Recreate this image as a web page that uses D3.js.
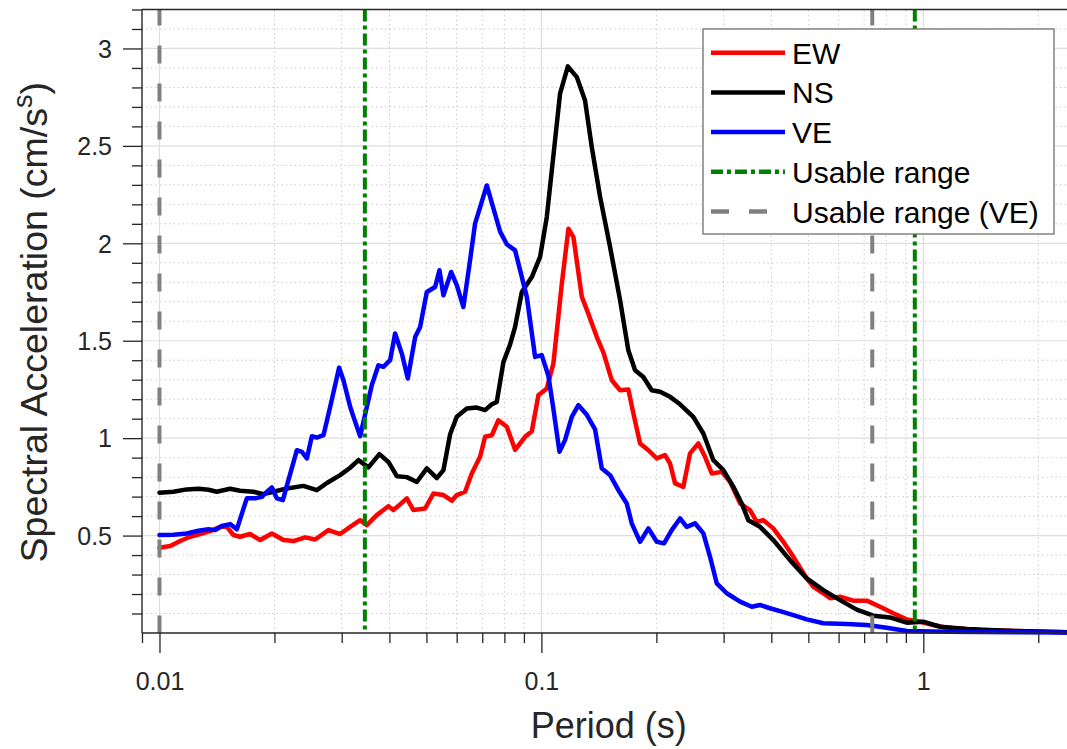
<!DOCTYPE html>
<html><head><meta charset="utf-8">
<script src="https://cdn.jsdelivr.net/npm/d3@7"></script>
<style>
body{margin:0;background:#fff;}
svg{display:block;font-family:"Liberation Sans",Arial,Helvetica,sans-serif;}
</style></head><body>
<svg id="c" width="1067" height="749"></svg>
<script>
// ---------- data ----------
const ewT = [0.0100,0.01067,0.01133,0.01203,0.01278,0.01357,0.01442,0.01501,0.01562,0.01626,0.01727,0.01835,0.01969,0.02112,0.02243,0.02407,0.02556,0.02770,0.02972,0.03157,0.03353,0.03491,0.03707,0.03976,0.04098,0.04267,0.04442,0.04623,0.04961,0.05215,0.05540,0.05827,0.06004,0.06313,0.06572,0.06910,0.07121,0.07416,0.07716,0.08118,0.08534,0.09065,0.09438,0.09820,0.1033,0.1075,0.1131,0.1177,0.1213,0.1276,0.1327,0.1396,0.1453,0.1529,0.1607,0.1689,0.1741,0.1813,0.1906,0.2005,0.2107,0.2172,0.2239,0.2353,0.2450,0.2576,0.2682,0.2793,0.2967,0.3119,0.3313,0.3517,0.3663,0.3812,0.4048,0.4300,0.4568,0.4953,0.5153,0.5473,0.5699,0.6053,0.6559,0.7110,0.7703,0.8344,0.9046,0.9804,1.062,1.151,1.407,2.378,2.5];
const ewV = [0.438,0.446,0.472,0.494,0.508,0.523,0.545,0.545,0.503,0.494,0.508,0.477,0.511,0.477,0.472,0.491,0.48,0.528,0.508,0.545,0.579,0.554,0.605,0.651,0.631,0.66,0.691,0.631,0.639,0.716,0.708,0.679,0.708,0.725,0.819,0.904,1.007,1.015,1.092,1.058,0.94,1.007,1.035,1.22,1.255,1.383,1.793,2.075,2.032,1.725,1.639,1.52,1.44,1.297,1.246,1.25,1.127,0.973,0.938,0.896,0.913,0.87,0.768,0.75,0.922,0.973,0.904,0.819,0.827,0.776,0.665,0.631,0.571,0.579,0.537,0.468,0.391,0.28,0.237,0.204,0.178,0.186,0.166,0.166,0.135,0.101,0.07,0.058,0.041,0.027,0.015,0.004,0.003];

const nsT = [0.0100,0.01087,0.01179,0.01265,0.01344,0.01413,0.01531,0.01626,0.01762,0.01872,0.01988,0.02155,0.02382,0.02582,0.02744,0.02972,0.03157,0.03319,0.03525,0.03766,0.03976,0.04183,0.04442,0.04719,0.05012,0.05324,0.05540,0.05768,0.06004,0.06378,0.06774,0.07121,0.07416,0.07642,0.07953,0.08278,0.08534,0.08887,0.09438,0.09922,0.1033,0.1075,0.1119,0.1173,0.1238,0.1301,0.1355,0.1425,0.1513,0.1607,0.1689,0.1759,0.1849,0.1945,0.2045,0.2172,0.2307,0.2499,0.2655,0.2820,0.2995,0.3182,0.3346,0.3482,0.3736,0.4048,0.4477,0.4953,0.5473,0.6053,0.6695,0.7399,0.8181,0.9046,1.000,1.106,1.299,1.717,2.378,2.5];
const nsV = [0.72,0.725,0.737,0.74,0.735,0.725,0.74,0.73,0.725,0.713,0.725,0.742,0.755,0.733,0.77,0.81,0.848,0.887,0.85,0.918,0.878,0.805,0.80,0.775,0.845,0.795,0.836,1.02,1.11,1.152,1.157,1.144,1.174,1.186,1.39,1.48,1.571,1.75,1.827,1.93,2.135,2.45,2.768,2.908,2.853,2.733,2.494,2.237,1.981,1.708,1.451,1.349,1.314,1.246,1.238,1.212,1.174,1.109,1.024,0.887,0.836,0.75,0.665,0.579,0.545,0.477,0.374,0.28,0.22,0.169,0.12,0.089,0.08,0.053,0.058,0.032,0.02,0.01,0.004,0.003];

const veT = [0.0100,0.01087,0.01179,0.01265,0.01344,0.01399,0.01457,0.01531,0.01594,0.01693,0.01780,0.01854,0.01891,0.01969,0.02029,0.02104,0.02176,0.02290,0.02360,0.02432,0.02506,0.02582,0.02688,0.02799,0.02954,0.03032,0.03157,0.03221,0.03353,0.03491,0.03597,0.03743,0.03858,0.04017,0.04140,0.04311,0.04469,0.04671,0.04814,0.05012,0.05269,0.05408,0.05540,0.05803,0.06004,0.06248,0.06505,0.06704,0.07195,0.07797,0.08118,0.08534,0.09159,0.09627,0.1002,0.1043,0.1075,0.1115,0.1153,0.1201,0.1250,0.1315,0.1382,0.1439,0.1513,0.1591,0.1673,0.1724,0.1813,0.1906,0.2005,0.2095,0.2194,0.2307,0.2401,0.2525,0.2655,0.2764,0.2878,0.3057,0.3313,0.3554,0.3736,0.3968,0.4216,0.4568,0.4953,0.5473,0.6303,0.7110,0.8021,0.9046,1.151,2.378,2.5];
const veV = [0.503,0.504,0.511,0.525,0.532,0.528,0.549,0.559,0.532,0.691,0.691,0.699,0.716,0.747,0.691,0.682,0.785,0.938,0.93,0.896,1.01,1.003,1.015,1.161,1.362,1.297,1.161,1.109,1.01,1.161,1.272,1.374,1.366,1.4,1.537,1.434,1.306,1.519,1.571,1.75,1.776,1.862,1.733,1.853,1.785,1.673,1.913,2.101,2.297,2.06,1.995,1.964,1.725,1.417,1.426,1.32,1.15,0.93,0.99,1.109,1.169,1.12,1.045,0.845,0.81,0.733,0.665,0.563,0.468,0.537,0.468,0.46,0.528,0.588,0.545,0.563,0.511,0.391,0.255,0.204,0.161,0.135,0.144,0.127,0.112,0.092,0.07,0.05,0.046,0.041,0.027,0.01,0.007,0.002,0.002];

const usableRange = [0.0345, 0.95];
const usableRangeVE = [0.01, 0.735];

const xMajorTicks = [0.01, 0.1, 1];
const xTickLabels = ["0.01", "0.1", "1"];
const yMajorTicks = [0.5, 1, 1.5, 2, 2.5, 3];
const yTickLabels = ["0.5", "1", "1.5", "2", "2.5", "3"];
const seriesNames = ["EW", "NS", "VE"];
const legendLabels = ["EW", "NS", "VE", "Usable range", "Usable range (VE)"];

// ---------- layout ----------
const X0 = 142, X1 = 1075.3, Y0 = 633, Y1 = 9.5;
const x = d3.scaleLog().domain([0.009, 2.5]).range([X0, X1]);
const y = d3.scaleLinear().domain([0, 3.2]).range([Y0, Y1]);
const svg = d3.select('#c');
const axisColor = '#262626';

// minor tick values
const xMinor = [0.009];
[0.01, 0.1, 1].forEach(d => { for (let k = 2; k <= 9; k++) { const v = +(k * d).toPrecision(3); if (v <= 2.5) xMinor.push(v); } });
const yMinor = d3.range(1, 33).map(i => +(i / 10).toFixed(1)).filter(v => Math.abs(v * 2 - Math.round(v * 2)) > 1e-6);

// ---------- grid ----------
const grid = svg.append('g');
grid.selectAll('.xmg').data(xMinor.filter(v => v > 0.0095)).enter().append('line')
  .attr('x1', d => x(d)).attr('x2', d => x(d)).attr('y1', Y0).attr('y2', Y1)
  .attr('stroke', '#c4c4c4').attr('stroke-width', 1).attr('stroke-dasharray', '1.3,3.2');
grid.selectAll('.ymg').data(yMinor).enter().append('line')
  .attr('x1', X0).attr('x2', X1).attr('y1', d => y(d)).attr('y2', d => y(d))
  .attr('stroke', '#c4c4c4').attr('stroke-width', 1).attr('stroke-dasharray', '1.3,3.2');
grid.selectAll('.xMg').data(xMajorTicks).enter().append('line')
  .attr('x1', d => x(d)).attr('x2', d => x(d)).attr('y1', Y0).attr('y2', Y1)
  .attr('stroke', '#dedede').attr('stroke-width', 1.2);
grid.selectAll('.yMg').data(yMajorTicks).enter().append('line')
  .attr('x1', X0).attr('x2', X1).attr('y1', d => y(d)).attr('y2', d => y(d))
  .attr('stroke', '#dedede').attr('stroke-width', 1.2);

// ---------- curves ----------
svg.append('clipPath').attr('id', 'clip').append('rect')
  .attr('x', X0).attr('y', Y1 - 2).attr('width', X1 - X0).attr('height', Y0 - Y1 + 4);
const line = d3.line().x(d => x(d.t)).y(d => y(d.v)).curve(d3.curveLinear);
const series = [
  { name: seriesNames[0], color: '#ff0000', data: ewT.map((t, i) => ({ t, v: ewV[i] })) },
  { name: seriesNames[1], color: '#000000', data: nsT.map((t, i) => ({ t, v: nsV[i] })) },
  { name: seriesNames[2], color: '#0000ff', data: veT.map((t, i) => ({ t, v: veV[i] })) }
];
const cg = svg.append('g').attr('clip-path', 'url(#clip)');
series.forEach(s => {
  cg.append('path').datum(s.data).attr('d', line)
    .attr('fill', 'none').attr('stroke', s.color).attr('stroke-width', 4.5)
    .attr('stroke-linejoin', 'round').attr('stroke-linecap', 'round');
});

// ---------- usable range lines ----------
const greenDash = '12,4,4,4';
const grayDash = '18,20';
cg.selectAll('.ur').data(usableRange).enter().append('line')
  .attr('x1', d => x(d)).attr('x2', d => x(d)).attr('y1', Y1).attr('y2', Y0)
  .attr('stroke', '#008000').attr('stroke-width', 4).attr('stroke-dasharray', greenDash);
cg.selectAll('.urv').data(usableRangeVE).enter().append('line')
  .attr('x1', d => x(d)).attr('x2', d => x(d)).attr('y1', Y1).attr('y2', Y0)
  .attr('stroke', '#808080').attr('stroke-width', 4).attr('stroke-dasharray', grayDash)
  .attr('stroke-dashoffset', 2);

// ---------- axes ----------
const ax = svg.append('g').attr('transform', `translate(0,${Y0})`);
ax.call(d3.axisBottom(x).tickValues(xMinor).tickSize(10).tickFormat(''));
const axM = svg.append('g').attr('transform', `translate(0,${Y0})`);
axM.call(d3.axisBottom(x).tickValues(xMajorTicks).tickSize(20).tickFormat((d, i) => xTickLabels[i]));
const ay = svg.append('g').attr('transform', `translate(${X0},0)`);
ay.call(d3.axisLeft(y).tickValues(yMinor).tickSize(10).tickFormat(''));
const ayM = svg.append('g').attr('transform', `translate(${X0},0)`);
ayM.call(d3.axisLeft(y).tickValues(yMajorTicks).tickSize(19).tickFormat((d, i) => yTickLabels[i]));
[ax, axM, ay, ayM].forEach(g => {
  g.select('.domain').remove();
  g.selectAll('.tick line').attr('stroke', axisColor).attr('stroke-width', 1.3);
  g.selectAll('.tick text').attr('fill', axisColor).attr('font-size', 25)
    .attr('font-family', '"Liberation Sans",Arial,sans-serif');
});
axM.selectAll('.tick text').attr('y', 57).attr('dy', null);
ayM.selectAll('.tick text').attr('x', -30).attr('dy', '0.35em');

// axis box lines
svg.append('line').attr('x1', X0).attr('x2', 1067).attr('y1', Y0).attr('y2', Y0).attr('stroke', axisColor).attr('stroke-width', 1.4);
svg.append('line').attr('x1', X0).attr('x2', X0).attr('y1', Y1).attr('y2', Y0).attr('stroke', axisColor).attr('stroke-width', 1.4);
svg.append('line').attr('x1', X0).attr('x2', 1067).attr('y1', Y1).attr('y2', Y1).attr('stroke', axisColor).attr('stroke-width', 1.4);

// axis labels
svg.append('text').attr('x', (X0 + X1) / 2).attr('y', 738).attr('text-anchor', 'middle')
  .attr('font-size', 36).attr('fill', axisColor).text('Period (s)');
const yl = svg.append('text').attr('transform', `translate(47,${(Y0 + Y1) / 2 + 1}) rotate(-90)`)
  .attr('text-anchor', 'middle').attr('font-size', 37.5).attr('fill', axisColor);
yl.append('tspan').text('Spectral Acceleration (cm/s');
yl.append('tspan').attr('font-size', 27).attr('dy', -15).text('s');
yl.append('tspan').attr('dy', 15).text(')');

// ---------- legend ----------
const lg = svg.append('g');
lg.append('rect').attr('x', 703).attr('y', 29).attr('width', 351).attr('height', 205)
  .attr('fill', '#fff').attr('stroke', '#6f6f6f').attr('stroke-width', 1.3);
const legendStyles = [
  { color: '#ff0000', dash: null },
  { color: '#000000', dash: null },
  { color: '#0000ff', dash: null },
  { color: '#008000', dash: greenDash },
  { color: '#808080', dash: grayDash }
];
legendLabels.forEach((lab, i) => {
  const ly = 52.7 + i * 39.7;
  lg.append('line').attr('x1', 711).attr('x2', 785).attr('y1', ly).attr('y2', ly)
    .attr('stroke', legendStyles[i].color).attr('stroke-width', 4.5)
    .attr('stroke-dasharray', legendStyles[i].dash);
  lg.append('text').attr('x', 792).attr('y', ly + 11).attr('font-size', 30)
    .attr('fill', '#000').text(lab);
});
</script>
</body></html>
